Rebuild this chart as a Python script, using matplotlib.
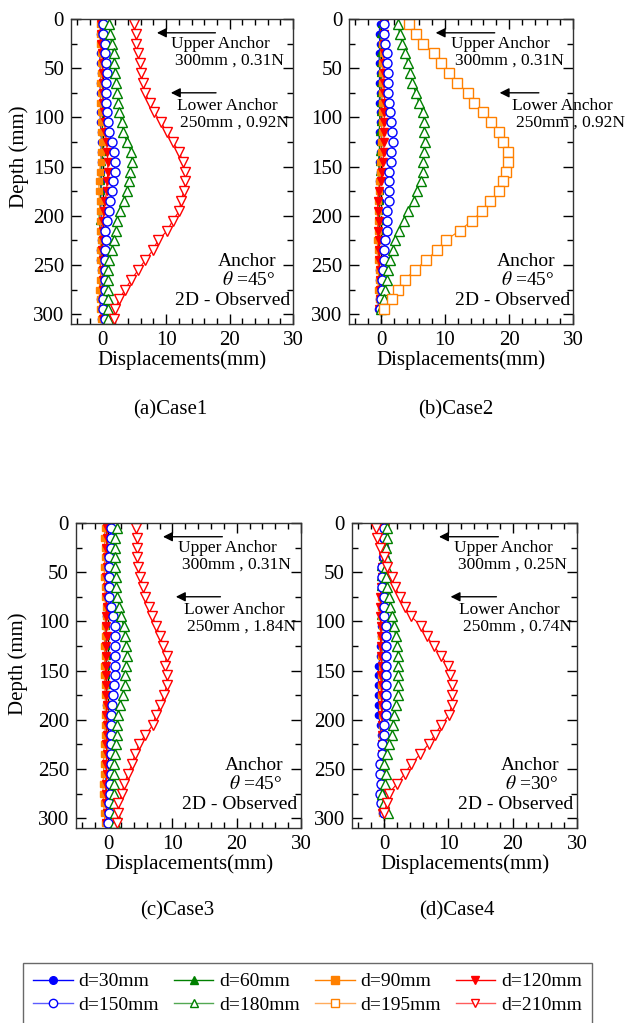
import matplotlib
matplotlib.use("Agg")
import matplotlib.pyplot as plt
from matplotlib.ticker import MultipleLocator
from matplotlib.lines import Line2D

plt.rcParams["font.family"] = ["Liberation Serif", "DejaVu Serif"]
plt.rcParams["mathtext.fontset"] = "stix"

# ---- data (depth in mm, displacement in mm) ----
depth_long = [5, 15, 25, 35, 45, 55, 65, 75, 85, 95, 105, 115, 125, 135, 145, 155,
              165, 175, 185, 195, 205, 215, 225, 235, 245, 255, 265, 275, 285, 295, 305]
depth_short = [5, 15, 25, 35, 45, 55, 65, 75, 85, 95, 105, 115, 125, 135, 145, 155,
               165, 175, 185, 195, 205, 215, 225, 235, 245, 255, 265, 275, 285, 295]

# Case1
c1_d30 = [-0.3, -0.4, -0.3, -0.4, -0.5, -0.3, -0.4, -0.4, -0.3, -0.4, -0.4, -0.3, -0.2, -0.3, -0.2, -0.3,
          -0.2, -0.3, -0.3, -0.3, -0.2, -0.3, -0.3, -0.4, -0.4, -0.3, -0.3, -0.3, -0.4, -0.3, -0.2]
c1_d60 = [0.0, -0.1, 0.0, -0.1, 0.0, 0.0, -0.1, 0.0, 0.0, -0.1, 0.0, -0.1, -0.1, 0.0, -0.1, -0.2,
          -0.3, -0.3, -0.4, -0.5, -0.6, -0.4, -0.2, -0.2, -0.1, 0.0, 0.0, -0.1, 0.0, 0.0, 0.0]
c1_d90 = [-0.4, -0.5, -0.4, -0.3, -0.3, -0.3, -0.4, -0.3, -0.4, -0.3, -0.3, -0.2, -0.1, -0.2, -0.3, -0.5,
          -0.6, -0.6, -0.5, -0.5, -0.4, -0.4, -0.3, -0.4, -0.5, -0.3, -0.4, -0.6, -0.5, -0.4, -0.3]
c1_d120 = [-0.2, -0.3, -0.2, -0.1, 0.0, 0.0, 0.0, 0.1, 0.1, 0.2, 0.3, 0.4, 0.6, 0.7, 0.8, 0.8,
           0.7, 0.6, 0.4, 0.2, 0.1, 0.0, 0.0, -0.1, 0.0, 0.0, 0.1, 0.1, 0.1, 0.1, 0.1]
c1_d150 = [0.1, 0.1, 0.3, 0.4, 0.5, 0.6, 0.5, 0.5, 0.5, 0.6, 0.9, 1.0, 1.4, 1.8, 1.9, 1.9,
           1.6, 1.4, 1.2, 1.0, 0.6, 0.4, 0.5, 0.4, 0.3, 0.3, 0.3, 0.3, 0.1, 0.1, 0.3]
c1_d180 = [1.0, 1.1, 1.4, 1.7, 1.8, 1.9, 2.1, 2.3, 2.4, 2.6, 3.0, 3.2, 3.8, 4.5, 4.6, 4.3,
           4.1, 3.9, 3.4, 2.7, 2.3, 2.1, 1.7, 1.4, 1.0, 0.9, 0.8, 0.8, 0.8, 0.9, 0.9]
c1_d210 = [4.9, 5.2, 5.3, 5.6, 5.8, 6.1, 6.4, 6.7, 7.4, 8.1, 9.2, 10.1, 11.0, 12.1, 12.6, 13.0,
           13.0, 12.8, 12.3, 12.1, 11.0, 10.2, 8.7, 7.9, 6.7, 5.6, 4.5, 3.5, 2.6, 1.9, 1.7]

# Case2
c2_d30 = [-0.2, -0.3, -0.2, -0.3, -0.3, -0.2, -0.3, -0.2, -0.3, -0.2, -0.2, -0.3, -0.3, -0.2, -0.3,
          -0.2, -0.3, -0.2, -0.2, -0.3, -0.2, -0.3, -0.2, -0.3, -0.3, -0.4, -0.3, -0.3, -0.4, -0.5]
c2_d60 = [0.0, -0.1, 0.0, -0.1, -0.2, -0.1, -0.1, -0.2, -0.1, -0.2, -0.2, -0.3, -0.2, -0.3, -0.4,
          -0.3, -0.3, -0.2, -0.2, -0.3, -0.2, -0.2, -0.3, -0.3, -0.2, -0.3, -0.2, -0.3, -0.3, -0.4]
c2_d90 = [0.3, 0.3, 0.2, 0.3, 0.2, 0.2, 0.1, 0.2, 0.1, 0.2, 0.1, 0.1, 0.0, 0.0, -0.1,
          -0.2, -0.3, -0.4, -0.5, -0.5, -0.5, -0.5, -0.6, -0.5, -0.5, -0.4, -0.4, -0.5, -0.4, -0.4]
c2_d120 = [0.5, 0.4, 0.5, 0.5, 0.4, 0.5, 0.4, 0.5, 0.6, 0.5, 0.5, 0.4, 0.5, 0.4, 0.3,
           0.2, 0.0, -0.4, -0.5, -0.5, -0.4, -0.5, -0.4, -0.4, -0.3, -0.2, -0.1, -0.2, -0.1, -0.3]
c2_d150 = [0.4, 0.5, 0.6, 0.9, 1.0, 1.1, 1.1, 1.1, 1.3, 1.4, 1.5, 1.7, 1.9, 1.6, 1.6,
           1.2, 1.2, 1.2, 1.2, 1.0, 0.9, 0.9, 0.6, 0.5, 0.4, 0.3, 0.1, 0.1, 0.0, -0.1]
c2_d180 = [2.6, 2.9, 3.3, 3.8, 4.2, 4.6, 4.9, 5.4, 5.9, 6.5, 6.7, 6.7, 6.8, 6.7, 6.6,
           6.5, 6.2, 5.6, 5.1, 4.2, 3.6, 2.8, 2.2, 1.8, 1.4, 1.1, 0.9, 0.6, 0.4, 0.0]
c2_d195 = [4.3, 5.4, 6.6, 8.2, 9.4, 10.6, 11.9, 13.6, 14.6, 15.9, 17.2, 18.5, 19.1, 19.8, 19.8,
           19.5, 19.1, 18.4, 17.1, 15.8, 14.2, 12.3, 10.1, 8.7, 7.1, 5.3, 3.7, 2.7, 1.7, 0.5]

# Case3
c3_d30 = [-0.3, -0.3, -0.2, -0.3, -0.3, -0.2, -0.3, -0.3, -0.2, -0.3, -0.4, -0.3, -0.3, -0.2, -0.3, -0.3,
          -0.2, -0.3, -0.3, -0.2, -0.3, -0.3, -0.3, -0.2, -0.3, -0.3, -0.4, -0.3, -0.3, -0.3, -0.3]
c3_d60 = [-0.2, -0.2, -0.1, -0.2, -0.2, -0.1, -0.2, -0.2, -0.3, -0.3, -0.4, -0.3, -0.3, -0.2, -0.3, -0.3,
          -0.2, -0.2, -0.3, -0.2, -0.2, -0.3, -0.2, -0.2, -0.3, -0.2, -0.3, -0.2, -0.2, -0.2, -0.2]
c3_d90 = [-0.5, -0.6, -0.5, -0.5, -0.6, -0.6, -0.5, -0.5, -0.4, -0.4, -0.5, -0.5, -0.6, -0.5, -0.6, -0.6,
          -0.5, -0.5, -0.4, -0.5, -0.5, -0.5, -0.6, -0.7, -0.7, -0.7, -0.8, -0.8, -0.7, -0.6, -0.5]
c3_d120 = [-0.2, -0.2, -0.3, -0.2, -0.2, -0.3, -0.2, -0.3, -0.2, -0.3, -0.3, -0.2, -0.4, -0.3, -0.4, -0.4,
           -0.3, -0.3, -0.2, -0.3, -0.2, -0.2, -0.3, -0.2, -0.3, -0.2, -0.3, -0.4, -0.3, -0.2, -0.3]
c3_d150 = [0.4, 0.4, 0.4, 0.2, 0.1, 0.2, 0.2, 0.2, 0.5, 0.8, 1.0, 1.0, 1.1, 1.1, 1.0, 1.0,
           0.9, 0.8, 0.6, 0.5, 0.4, 0.5, 0.5, 0.5, 0.4, 0.4, 0.3, 0.3, 0.2, 0.1, 0.0]
c3_d180 = [1.4, 1.1, 1.1, 1.1, 1.1, 1.2, 1.3, 1.4, 1.7, 2.0, 2.4, 2.6, 2.8, 2.9, 2.8, 2.7,
           2.6, 2.3, 1.9, 1.6, 1.4, 1.4, 1.2, 1.0, 0.9, 0.9, 0.9, 0.9, 0.9, 1.0, 1.0]
c3_d210 = [4.4, 4.5, 4.5, 4.5, 4.7, 5.0, 5.5, 5.7, 6.3, 6.9, 7.5, 8.1, 8.6, 9.1, 8.8, 9.1,
           9.1, 8.7, 8.1, 7.4, 7.0, 5.8, 4.8, 4.2, 3.7, 3.1, 2.5, 2.1, 1.6, 1.5, 1.4]

# Case4
c4_d30 = [-0.2, -0.3, -0.3, -0.4, -0.5, -0.5, -0.5, -0.4, -0.4, -0.4, -0.5, -0.5, -0.6, -0.6, -0.9,
          -0.9, -0.9, -0.9, -0.9, -0.9, -0.6, -0.5, -0.5, -0.4, -0.5, -0.4, -0.4, -0.5, -0.4, -0.3]
c4_d60 = [0.1, 0.0, -0.2, -0.4, -0.6, -0.6, -0.6, -0.5, -0.5, -0.6, -0.4, -0.4, -0.4, -0.3, -0.4,
          -0.3, -0.3, -0.4, -0.3, -0.3, -0.3, -0.3, -0.3, -0.2, -0.3, -0.2, -0.3, -0.3, -0.2, -0.1]
c4_d90 = [0.2, 0.2, 0.0, -0.2, -0.3, -0.4, -0.4, -0.5, -0.5, -0.5, -0.4, -0.5, -0.4, -0.5, -0.4,
          -0.5, -0.5, -0.5, -0.4, -0.4, -0.4, -0.4, -0.4, -0.4, -0.6, -0.5, -0.4, -0.5, -0.5, -0.3]
c4_d120 = [0.1, 0.0, -0.1, -0.2, -0.3, -0.3, -0.5, -0.6, -0.6, -0.6, -0.5, -0.5, -0.5, -0.5, -0.4,
           -0.5, -0.4, -0.4, -0.4, -0.4, -0.3, -0.3, -0.4, -0.4, -0.5, -0.4, -0.4, -0.5, -0.4, -0.3]
c4_d150 = [0.05, 0.0, 0.0, 0.0, -0.4, -0.4, -0.4, -0.1, -0.1, -0.1, 0.3, 0.3, 0.3, 0.3, 0.3,
           0.3, 0.3, 0.3, 0.3, 0.3, -0.1, -0.1, -0.4, -0.4, -0.6, -0.6, -0.5, -0.7, -0.5, -0.1]
c4_d180 = [0.4, 0.4, 0.3, 0.3, 0.3, 0.3, 0.4, 0.7, 0.9, 1.2, 1.5, 1.8, 2.0, 2.1, 2.2,
           2.2, 2.1, 2.1, 1.8, 1.5, 1.3, 1.2, 0.8, 0.4, -0.1, 0.3, 0.1, -0.4, -0.1, 0.6]
c4_d210 = [-1.25, -1.1, -0.7, -0.1, 0.4, 1.2, 1.7, 2.5, 3.2, 4.2, 5.8, 6.6, 7.7, 8.9, 9.9,
           10.2, 10.6, 10.5, 10.5, 10.1, 8.9, 7.9, 6.9, 5.6, 4.2, 3.2, 2.0, 0.7, 0.4, 0.0]

labels = ["d=30mm", "d=60mm", "d=90mm", "d=120mm", "d=150mm", "d=180mm", "d=195mm", "d=210mm"]
colors = ["#0000ff", "#008000", "#ff8000", "#ff0000", "#0000ff", "#008000", "#ff8000", "#ff0000"]
legend_line_colors = ["#0000ff", "#008000", "#ff8000", "#ff0000", "#5c5cff", "#52a852", "#ffac5c", "#ff5c5c"]
markers = ["o", "^", "s", "v", "o", "^", "s", "v"]
filled = [True, True, True, True, False, False, False, False]
msizes = [4.5, 5, 4.5, 5.5, 6.5, 7, 6.5, 7]

cases = [
    dict(depth=depth_long,
         series={0: c1_d30, 1: c1_d60, 2: c1_d90, 3: c1_d120, 4: c1_d150, 5: c1_d180, 7: c1_d210},
         upper="300mm , 0.31N", lower="250mm , 0.92N", theta="45", title="(a)Case1",
         pos=[0.1115, 0.6833, 0.3485, 0.2981], ylabel=(-0.19, 0.548), lower_arrow=(18.3, 10.3),
         lower_x=19.6, cap=(0.267, 0.599)),
    dict(depth=depth_short,
         series={0: c2_d30, 1: c2_d60, 2: c2_d90, 3: c2_d120, 4: c2_d150, 5: c2_d180, 6: c2_d195},
         upper="300mm , 0.31N", lower="250mm , 0.92N", theta="45", title="(b)Case2",
         pos=[0.548, 0.6833, 0.3515, 0.2981], ylabel=None, lower_arrow=(25.1, 18.1),
         lower_x=28.4, cap=(0.716, 0.599)),
    dict(depth=depth_long,
         series={0: c3_d30, 1: c3_d60, 2: c3_d90, 3: c3_d120, 4: c3_d150, 5: c3_d180, 7: c3_d210},
         upper="300mm , 0.31N", lower="250mm , 1.84N", theta="45", title="(c)Case3",
         pos=[0.1193, 0.1906, 0.3532, 0.2982], ylabel=(-0.212, 0.538), lower_arrow=(17.9, 10.1),
         lower_x=19.6, cap=(0.278, 0.110)),
    dict(depth=depth_short,
         series={0: c4_d30, 1: c4_d60, 2: c4_d90, 3: c4_d120, 4: c4_d150, 5: c4_d180, 7: c4_d210},
         upper="300mm , 0.25N", lower="250mm , 0.74N", theta="30", title="(d)Case4",
         pos=[0.5526, 0.1906, 0.3532, 0.2982], ylabel=None, lower_arrow=(17.9, 9.9),
         lower_x=19.5, cap=(0.717, 0.110)),
]

fig = plt.figure(figsize=(6.37, 10.23), dpi=100)

for case in cases:
    ax = fig.add_axes(case["pos"])
    ax.axvline(0, color="black", linestyle="--", linewidth=1.0, zorder=1)
    for i, vals in case["series"].items():
        col = colors[i]
        ax.plot(vals, case["depth"][:len(vals)], color=col, marker=markers[i], markersize=msizes[i],
                linewidth=0.8, markerfacecolor=col if filled[i] else "white", markeredgecolor=col,
                markeredgewidth=1.0, zorder=2)
    ax.set_xlim(-5, 30)
    ax.set_ylim(310, 0)
    ax.xaxis.set_major_locator(MultipleLocator(10))
    ax.xaxis.set_minor_locator(MultipleLocator(2))
    ax.yaxis.set_major_locator(MultipleLocator(50))
    ax.yaxis.set_minor_locator(MultipleLocator(25))
    ax.tick_params(which="both", direction="in", top=True, right=True, labelsize=15, pad=5)
    ax.tick_params(which="major", length=7, width=1)
    ax.tick_params(which="minor", length=4, width=1)
    for sp in ax.spines.values():
        sp.set_linewidth(1.0)
        sp.set_color("#333333")
    ax.set_xlabel("Displacements(mm)", fontsize=15, labelpad=0)
    if case["ylabel"]:
        ax.set_ylabel("Depth (mm)", fontsize=15)
        ax.yaxis.set_label_coords(*case["ylabel"])

    # anchor arrows and notes
    ax.annotate("", xy=(8.1, 14), xytext=(18.2, 14),
                arrowprops=dict(arrowstyle="-|>", color="black", lw=1.0, mutation_scale=14))
    t1, t2 = case["lower_arrow"]
    ax.annotate("", xy=(t2, 75), xytext=(t1, 75),
                arrowprops=dict(arrowstyle="-|>", color="black", lw=1.0, mutation_scale=14),
                annotation_clip=False)
    ax.text(18.6, 25, "Upper Anchor", fontsize=12.5, ha="center", va="center")
    ax.text(20.0, 42, case["upper"], fontsize=12.5, ha="center", va="center")
    ax.text(case["lower_x"], 88, "Lower Anchor", fontsize=12.5, ha="center", va="center", clip_on=False)
    ax.text(case["lower_x"] + 1.2, 105, case["lower"], fontsize=12.5, ha="center", va="center", clip_on=False)

    ax.text(22.7, 246, "Anchor", fontsize=14, ha="center", va="center")
    ax.text(23.0, 265, r"$\theta$ =" + case["theta"] + "°", fontsize=14, ha="center", va="center")
    ax.text(20.5, 286, "2D - Observed", fontsize=14, ha="center", va="center")

    fig.text(case["cap"][0], case["cap"][1], case["title"], fontsize=15, ha="center", va="center")

# legend
handles = []
for lab, col, lcol, mk, fl in zip(labels, colors, legend_line_colors, markers, filled):
    handles.append(Line2D([0], [0], color=lcol, marker=mk, markersize=5.5 if fl else 6,
                          markerfacecolor=col if fl else "white", markeredgecolor=col,
                          linewidth=1.0, label=lab))
order = [0, 4, 1, 5, 2, 6, 3, 7]
leg = fig.legend([handles[i] for i in order], [labels[i] for i in order], ncol=4,
                 loc="upper left", bbox_to_anchor=(23 / 637, 1 - 963 / 1023),
                 fontsize=14, frameon=True, fancybox=False, edgecolor="#444444",
                 handlelength=2.05, handletextpad=0.3, columnspacing=0.75, borderpad=0.5,
                 borderaxespad=0, labelspacing=0.3)
leg.get_frame().set_linewidth(1.0)

fig.savefig("out.png", dpi=100)
